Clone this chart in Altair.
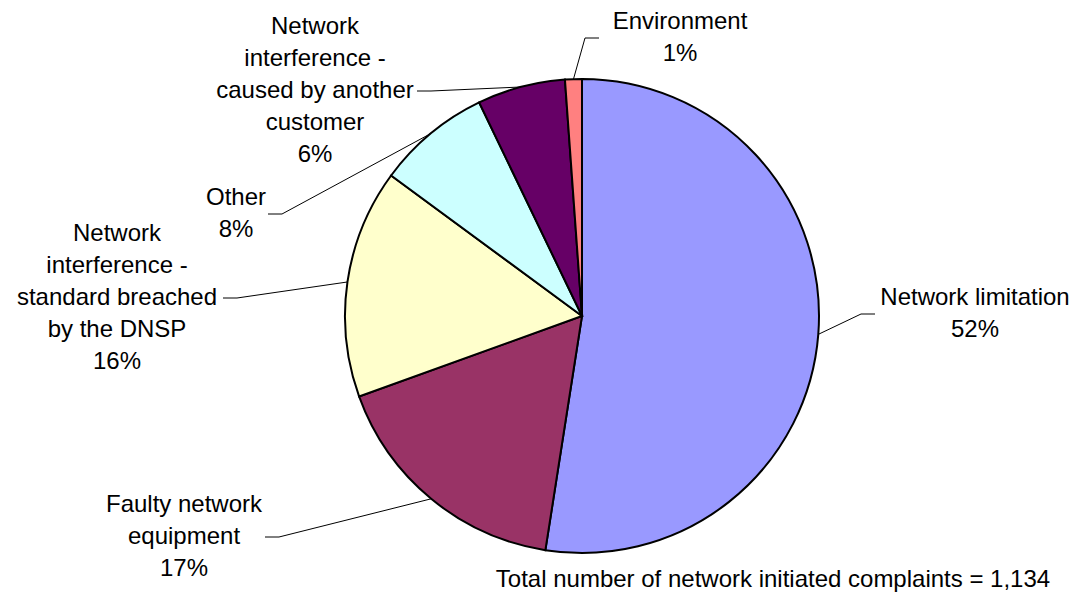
import math
import altair as alt
import pandas as pd

# ---- data ----
categories = [
    "Network limitation",
    "Faulty network equipment",
    "Network interference - standard breached by the DNSP",
    "Other",
    "Network interference - caused by another customer",
    "Environment",
]
counts = [595, 193, 177, 88, 68, 13]
label_lines = [
    ["Network limitation"],
    ["Faulty network", "equipment"],
    ["Network", "interference -", "standard breached", "by the DNSP"],
    ["Other"],
    ["Network", "interference -", "caused by another", "customer"],
    ["Environment"],
]
colors = ["#9999FF", "#993366", "#FFFFCC", "#CCFFFF", "#660066", "#FF8080"]
total_label = "Total number of network initiated complaints = 1,134"

# ---- layout ----
W, H = 1079, 596
CX, CY, R = 582, 316, 237
FONT = "Liberation Sans"
FS = 24
LH = 32
label_center = [(975, 314), (184, 537), (117, 298), (236, 214), (315, 91), (680, 38)]
leader_end_x = [875, 265, 223, 268, 417, 599]

total = sum(counts)
pie_rows, text_rows, line_rows = [], [], []
cum = 0
for i, (cat, c) in enumerate(zip(categories, counts)):
    pct = round(100 * c / total)
    pie_rows.append({"cat": cat, "count": c, "idx": i})
    lx, ly = label_center[i]
    lines = label_lines[i] + [f"{pct}%"]
    y_first = ly - (len(lines) - 1) * LH / 2
    text_rows.append({"x": lx, "y": y_first, "txt": "\n".join(lines)})
    mid = 2 * math.pi * (cum + c / 2) / total
    cum += c
    ex, ey = CX + R * math.sin(mid), CY - R * math.cos(mid)
    endx = leader_end_x[i]
    elbx = endx + 14 if lx < CX else endx - 14
    line_rows += [
        {"cat": cat, "s": 0, "x": ex, "y": ey},
        {"cat": cat, "s": 1, "x": elbx, "y": ly},
        {"cat": cat, "s": 2, "x": endx, "y": ly},
    ]

pie_df = pd.DataFrame(pie_rows)
text_df = pd.DataFrame(text_rows)
line_df = pd.DataFrame(line_rows)
total_df = pd.DataFrame([{"x": 773, "y": 580, "txt": total_label}])

xs = alt.Scale(domain=[0, W], range=[0, W])
ys = alt.Scale(domain=[0, H], range=[0, H])

pie = alt.Chart(pie_df).mark_arc(radius=R, stroke="black", strokeWidth=2).encode(
    theta=alt.Theta("count:Q", stack=True),
    order=alt.Order("idx:Q"),
    color=alt.Color("cat:N", scale=alt.Scale(domain=categories, range=colors), legend=None),
    x=alt.value(CX),
    y=alt.value(CY),
)

leaders = alt.Chart(line_df).mark_line(color="black", strokeWidth=1).encode(
    x=alt.X("x:Q", scale=xs, axis=None),
    y=alt.Y("y:Q", scale=ys, axis=None),
    detail="cat:N",
    order="s:Q",
)

labels = alt.Chart(text_df).mark_text(
    lineBreak="\n", align="center", baseline="middle", font=FONT, fontSize=FS,
    lineHeight=LH, color="black",
).encode(
    x=alt.X("x:Q", scale=xs, axis=None),
    y=alt.Y("y:Q", scale=ys, axis=None),
    text="txt:N",
)

total_text = alt.Chart(total_df).mark_text(
    align="center", baseline="middle", font=FONT, fontSize=FS, color="black",
).encode(
    x=alt.X("x:Q", scale=xs, axis=None),
    y=alt.Y("y:Q", scale=ys, axis=None),
    text="txt:N",
)

chart = alt.layer(pie, leaders, labels, total_text).properties(
    width=W, height=H, autosize=alt.AutoSizeParams(type="none"), padding=0,
    background="white",
).configure_view(stroke=None)

chart.save("out.html", embed_options={"renderer": "svg", "actions": False})
